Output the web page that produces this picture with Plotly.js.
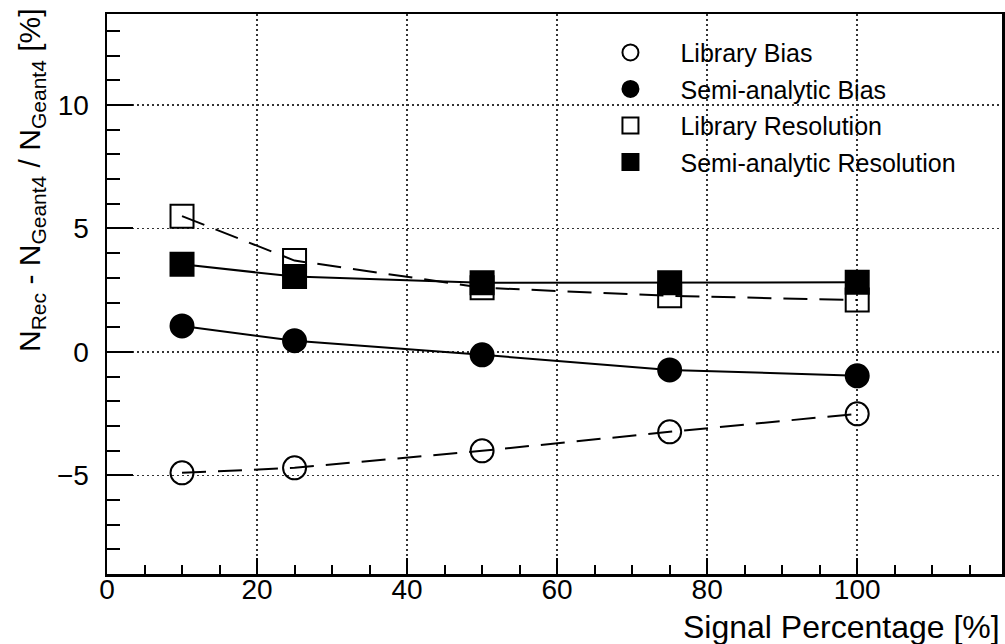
<!DOCTYPE html>
<html>
<head>
<meta charset="utf-8">
<script src="https://cdn.plot.ly/plotly-3.0.1.min.js"></script>
<style>html,body{margin:0;padding:0;background:#fff;}#chart{width:1005px;height:644px;}</style>
</head>
<body>
<div id="chart"></div>
<script>
var signalPct = [10, 25, 50, 75, 100];
var libraryBias = [-4.9, -4.7, -4.01, -3.24, -2.51];
var semiBias = [1.05, 0.45, -0.12, -0.73, -0.97];
var libraryRes = [5.5, 3.7, 2.6, 2.27, 2.1];
var semiRes = [3.55, 3.05, 2.8, 2.8, 2.82];
var seriesNames = ['Library Bias', 'Semi-analytic Bias', 'Library Resolution', 'Semi-analytic Resolution'];
var xTicks = [0, 20, 40, 60, 80, 100];
var yTicks = [-5, 0, 5, 10];

var font = 'Liberation Sans, Arial, Helvetica, sans-serif';
var dashPat = '24px,12px';
var mk = 23;

function mainTrace(y, sym, dash) {
  return {
    x: signalPct, y: y, type: 'scatter', mode: 'lines+markers', showlegend: false,
    line: {color: '#000', width: 2, dash: dash},
    marker: {symbol: sym, size: mk, color: '#000', line: {color: '#000', width: 2}},
    hoverinfo: 'x+y'
  };
}
function legTrace(name, sym, grp) {
  return {
    x: [null], y: [null], type: 'scatter', mode: 'markers', name: name, showlegend: true,
    legendgroup: grp,
    marker: {symbol: sym, size: 21, color: '#000', line: {color: '#000', width: 2}}
  };
}

var data = [
  mainTrace(libraryBias, 'circle-open', dashPat),
  mainTrace(semiBias, 'circle', 'solid'),
  mainTrace(libraryRes, 'square-open', dashPat),
  mainTrace(semiRes, 'square', 'solid'),
  legTrace(seriesNames[0], 'circle-open', 'g1'),
  legTrace(seriesNames[1], 'circle', 'g2'),
  legTrace(seriesNames[2], 'square-open', 'g3'),
  legTrace(seriesNames[3], 'square', 'g4')
];

var layout = {
  width: 1005, height: 644,
  margin: {l: 107, r: 3, t: 14, b: 70},
  paper_bgcolor: '#fff', plot_bgcolor: '#fff',
  font: {family: font, color: '#000', size: 26},
  showlegend: true,
  legend: {
    x: 0.529, y: 0.972, xanchor: 'left', yanchor: 'top',
    bgcolor: 'rgba(255,255,255,0)', borderwidth: 0,
    font: {family: font, size: 25, color: '#000'},
    itemwidth: 90, tracegroupgap: 1
  },
  xaxis: {
    range: [0, 119.3], tickvals: xTicks, ticktext: xTicks.map(String),
    ticks: 'inside', ticklen: 16, tickwidth: 2, tickcolor: '#000',
    showline: true, linewidth: 2.5, linecolor: '#000', mirror: true,
    showgrid: true, gridcolor: '#333', gridwidth: 1.5, griddash: '2px,3px',
    zeroline: false, ticklabelstandoff: -11,
    tickfont: {family: font, size: 28, color: '#000'},
    minor: {dtick: 5, tick0: 0, ticks: 'inside', ticklen: 9, tickwidth: 2, tickcolor: '#000', showgrid: false}
  },
  yaxis: {
    range: [-9, 13.69], tickvals: yTicks, ticktext: yTicks.map(function(v){return v < 0 ? '\u2212' + Math.abs(v) : String(v);}),
    ticks: 'inside', ticklen: 26, tickwidth: 2, tickcolor: '#000',
    showline: true, linewidth: 2.5, linecolor: '#000', mirror: true,
    showgrid: true, gridcolor: '#333', gridwidth: 1.5, griddash: '2px,3px',
    zeroline: false, ticklabelstandoff: 10,
    tickfont: {family: font, size: 28, color: '#000'},
    minor: {dtick: 1, tick0: 0, ticks: 'inside', ticklen: 13, tickwidth: 2, tickcolor: '#000', showgrid: false}
  },
  annotations: [
    {
      xref: 'paper', yref: 'paper', x: 1.0, y: -0.0946, xanchor: 'right', yanchor: 'middle',
      text: 'Signal Percentage [%]', showarrow: false,
      font: {family: font, size: 32, color: '#000'}
    },
    {
      xref: 'paper', yref: 'paper', x: -0.0838, y: 0.7036, xanchor: 'center', yanchor: 'middle',
      textangle: -90, showarrow: false,
      text: 'N<sub>Rec</sub> - N<sub>Geant4</sub> / N<sub>Geant4</sub> [%]',
      font: {family: font, size: 30, color: '#000'}
    }
  ]
};

Plotly.newPlot('chart', data, layout, {displayModeBar: false, staticPlot: true});
</script>
</body>
</html>
